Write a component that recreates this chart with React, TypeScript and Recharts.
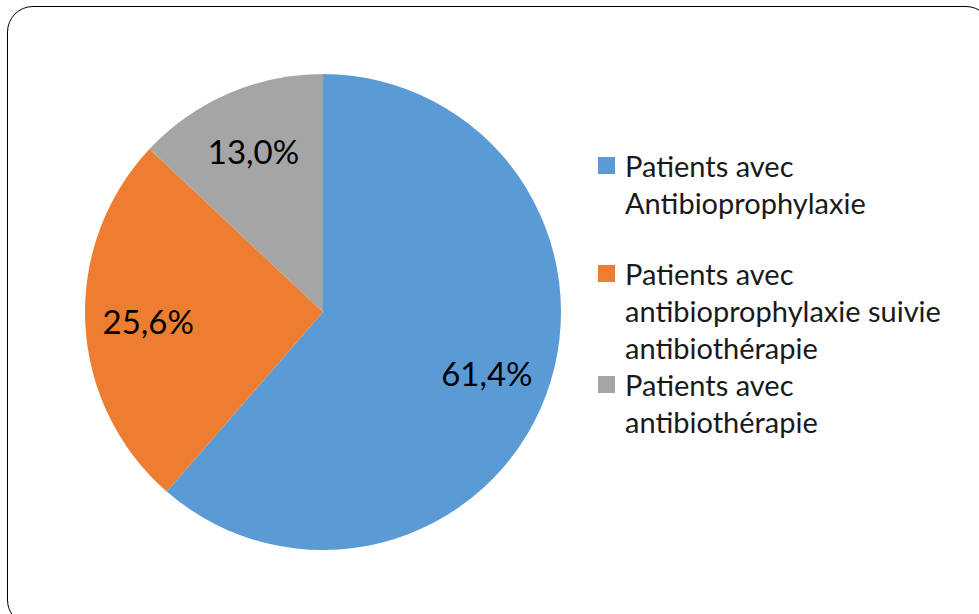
import { PieChart, Pie, Cell, Legend } from "recharts";

const categories = [
  "Patients avec Antibioprophylaxie",
  "Patients avec antibioprophylaxie suivie antibiothérapie",
  "Patients avec antibiothérapie",
];
const values = [61.4, 25.6, 13.0];
const colors = ["#5B9BD5", "#ED7D31", "#A5A5A5"];

const data = categories.map((name, i) => ({ name, value: values[i] }));

const RAD = Math.PI / 180;
const FONT = "Lato, 'Open Sans', sans-serif";

const renderLabel = (props: any) => {
  const { cx, cy, midAngle, value } = props;
  const r = 175;
  const x = cx + r * Math.cos(-midAngle * RAD);
  const y = cy + r * Math.sin(-midAngle * RAD);
  return (
    <text
      x={x}
      y={y}
      fill="#000"
      textAnchor="middle"
      dominantBaseline="central"
      fontSize={33}
      fontFamily={FONT}
    >
      {value.toFixed(1).replace(".", ",") + "%"}
    </text>
  );
};

// espace après chaque entrée de légende
const gaps = [34, 0, 0];

const renderLegend = () => (
  <div style={{ fontFamily: FONT, fontSize: 29, lineHeight: "37px", color: "#1a1a1a" }}>
    {categories.map((name, i) => (
      <div key={name} style={{ display: "flex", marginBottom: gaps[i] }}>
        <div
          style={{
            width: 17,
            height: 17,
            background: colors[i],
            marginTop: 10,
            marginRight: 10,
            flexShrink: 0,
          }}
        />
        <div style={{ width: 355 }}>{name}</div>
      </div>
    ))}
  </div>
);

export default function App() {
  return (
    <div style={{ position: "fixed", left: 0, top: 0, width: 979, height: 614, background: "#fff", overflow: "hidden" }}>
      <div
        style={{
          position: "absolute",
          left: 7,
          top: 6,
          width: 985,
          height: 620,
          border: "1.5px solid #000",
          borderRadius: 26,
          boxSizing: "border-box",
        }}
      />
      <div style={{ position: "absolute", left: 0, top: 0 }}>
        <PieChart width={979} height={614} margin={{ top: 0, right: 0, bottom: 0, left: 0 }}>
          <Pie
            data={data}
            dataKey="value"
            nameKey="name"
            cx={323}
            cy={312}
            outerRadius={238}
            startAngle={90}
            endAngle={-270}
            stroke="none"
            label={renderLabel}
            labelLine={false}
            isAnimationActive={false}
          >
            {data.map((d, i) => (
              <Cell key={d.name} fill={colors[i]} />
            ))}
          </Pie>
          <Legend
            content={renderLegend}
            wrapperStyle={{ position: "absolute", left: 598, top: 147, width: 380 }}
          />
        </PieChart>
      </div>
    </div>
  );
}
